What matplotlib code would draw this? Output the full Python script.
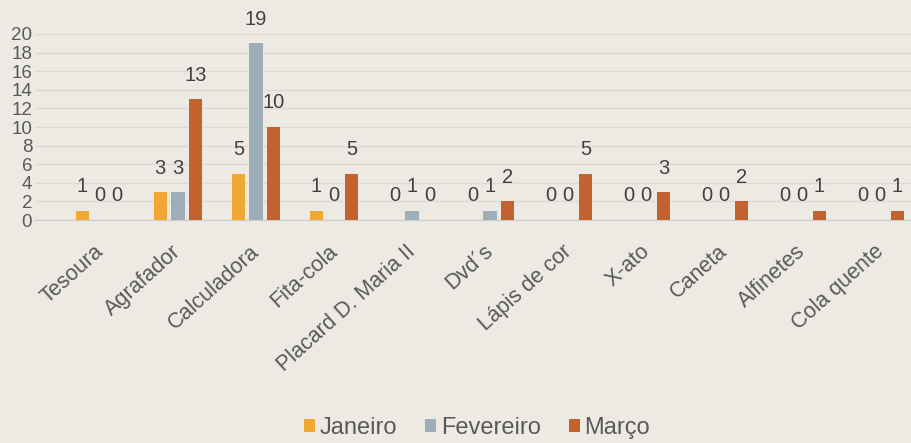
import matplotlib
matplotlib.use('agg')
import matplotlib.pyplot as plt
import numpy as np

categories = ['Tesoura', 'Agrafador', 'Calculadora', 'Fita-cola', 'Placard D. Maria II',
              'Dvd´s', 'Lápis de cor', 'X-ato', 'Caneta', 'Alfinetes', 'Cola quente']
months = ['Janeiro', 'Fevereiro', 'Março']
janeiro = [1, 3, 5, 1, 0, 0, 0, 0, 0, 0, 0]
fevereiro = [0, 3, 19, 0, 1, 1, 0, 0, 0, 0, 0]
marco = [0, 13, 10, 5, 0, 2, 5, 3, 2, 1, 1]
y_ticks = list(range(0, 21, 2))

colors = ['#F0A832', '#9DAEB8', '#C4622F']
bg = '#ECEAE3'
narrow = ['Liberation Sans Narrow', 'Liberation Sans', 'DejaVu Sans']
plt.rcParams['font.family'] = ['Liberation Sans', 'DejaVu Sans']

fig = plt.figure(figsize=(9.12, 4.43), dpi=100, facecolor=bg)
ax = fig.add_axes([35 / 912, 223 / 443, 877 / 912, 186 / 443], facecolor=bg)

x = np.arange(len(categories))
width = 0.173
step = 0.224
series = [janeiro, fevereiro, marco]
for i, (name, vals) in enumerate(zip(months, series)):
    pos = x + (i - 1) * step
    ax.bar(pos, vals, width, color=colors[i], label=name, zorder=3)
    for px, v in zip(pos, vals):
        ax.annotate(str(v), (px, v), xytext=(0, 10.5), textcoords='offset points',
                    ha='center', va='bottom', fontsize=14.5, color='#404040',
                    annotation_clip=False)

ax.set_xlim(-0.83, 10.41)
ax.set_ylim(0, 20)
ax.set_yticks(y_ticks)
ax.set_yticklabels([str(t) for t in y_ticks], family=narrow, fontsize=13.5, color='#595959')
ax.set_xticks(x - 0.08)
ax.set_xticklabels(categories, rotation=42, ha='right', rotation_mode='anchor',
                   fontsize=15.5, color='#595959')
ax.tick_params(axis='both', length=0)
ax.tick_params(axis='x', pad=15)
ax.tick_params(axis='y', pad=2)
ax.grid(axis='y', color='#DCDAD2', linewidth=1, zorder=0)
for s in ['top', 'right', 'left']:
    ax.spines[s].set_visible(False)
ax.spines['bottom'].set_color('#CBCDCC')

fig.legend(loc='center', bbox_to_anchor=(477 / 912, 1 - 428 / 443), ncol=3, frameon=False,
           fontsize=17, handlelength=0.45, handleheight=0.45, handletextpad=0.2,
           columnspacing=1.2, labelcolor='#595959')

fig.savefig('out.png', facecolor=bg)
